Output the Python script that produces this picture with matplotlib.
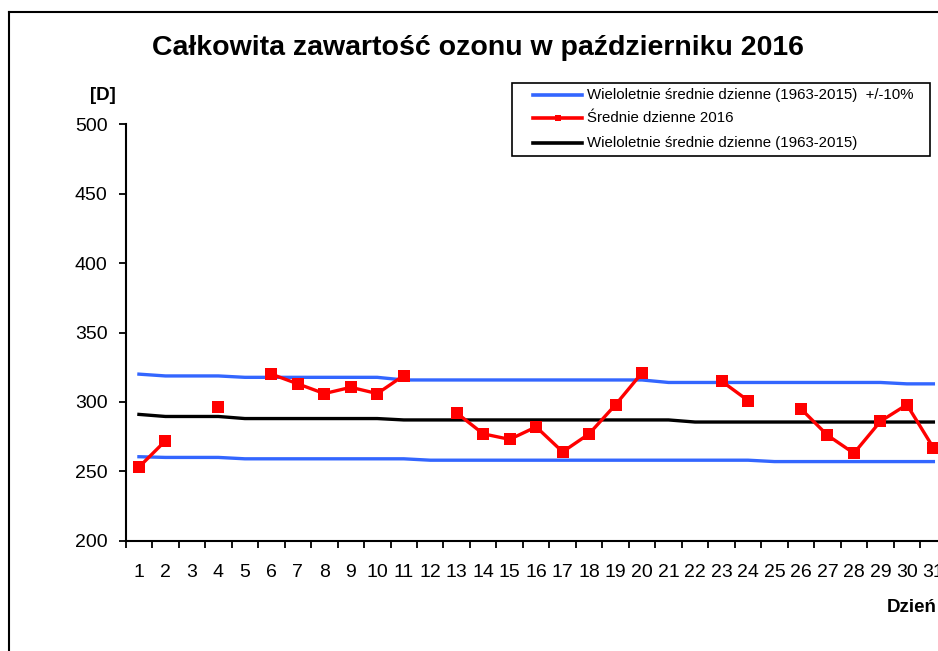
import numpy as np
import matplotlib
matplotlib.use("Agg")
import matplotlib.pyplot as plt
from matplotlib.lines import Line2D
from matplotlib.patches import Rectangle

plt.rcParams['font.family'] = ['Liberation Sans', 'DejaVu Sans']

days = list(range(1, 32))
day_labels = [str(d) for d in days]

nan = np.nan
srednie_2016 = [253, 272, nan, 296, nan, 320, 313, 306, 310.5, 306,
                319, nan, 292, 277, 273, 282, 264, 277, 298, 321,
                nan, nan, 315, 301, nan, 295, 276, 263, 286, 298, 267]

wieloletnie = ([291] + [289.5] * 3 + [288] * 6 + [287] * 11 + [285.5] * 10)
gorna = ([320] + [318.7] * 3 + [317.7] * 6 + [315.8] * 10 + [314] * 9 + [313] * 2)
dolna = ([260.5] + [260] * 3 + [259] * 7 + [258] * 13 + [257] * 7)

title = "Całkowita zawartość ozonu w październiku 2016"
lab_band = "Wieloletnie średnie dzienne (1963-2015)  +/-10%"
lab_2016 = "Średnie dzienne 2016"
lab_mean = "Wieloletnie średnie dzienne (1963-2015)"

W, H = 938, 651
fig = plt.figure(figsize=(W / 100, H / 100), dpi=100)

def fx(px):
    return px / W

def fy(py):
    return 1 - py / H

left, right = 125.7, 946.6
bottom, top = 540.7, 124.3
ax = fig.add_axes([fx(left), fy(bottom), (right - left) / W, (bottom - top) / H])

blue = '#3366FF'
red = '#FF0000'
ax.plot(days, gorna, color=blue, lw=2.4, zorder=2)
ax.plot(days, dolna, color=blue, lw=2.4, zorder=2)
ax.plot(days, wieloletnie, color='black', lw=2.4, zorder=3)
ax.plot(days, srednie_2016, color=red, lw=2.4, marker='s', ms=8.3,
        markeredgewidth=0, zorder=4)

ax.set_xlim(0.5, 31.5)
ax.set_ylim(200, 500)
ax.set_yticks([200, 250, 300, 350, 400, 450, 500])
ax.set_xticks(days)
ax.set_xticklabels(day_labels)
ax.set_xticks(np.arange(0.5, 32, 1), minor=True)
ax.tick_params(axis='x', which='major', length=0, pad=17, labelsize=14)
ax.tick_params(axis='x', which='minor', length=5, width=1.3, direction='out')
ax.tick_params(axis='y', which='major', length=5, width=1.3, pad=8, labelsize=14)

for s in ['top', 'right']:
    ax.spines[s].set_visible(False)
for s in ['left', 'bottom']:
    ax.spines[s].set_linewidth(1.5)

fig.text(fx(478), fy(48), title, ha='center', va='center',
         fontsize=20.5, fontweight='bold')
fig.text(fx(103), fy(95), "[D]", ha='center', va='center',
         fontsize=13.5, fontweight='bold')
fig.text(fx(887), fy(608), "Dzień", ha='left', va='center',
         fontsize=13.5, fontweight='bold')

# legend drawn by hand in figure pixels
fig.add_artist(Rectangle((fx(511.7), fy(156)), fx(930) - fx(511.7), fy(83.3) - fy(156),
                         transform=fig.transFigure, facecolor='white',
                         edgecolor='black', lw=1.2, zorder=5))
rows = [(95, blue, False, lab_band), (118.3, red, True, lab_2016),
        (142.7, 'black', False, lab_mean)]
for yy, col, mk, lab in rows:
    fig.add_artist(Line2D([fx(533), fx(582)], [fy(yy), fy(yy)], color=col, lw=2.6,
                          transform=fig.transFigure, zorder=6))
    if mk:
        fig.add_artist(Line2D([fx(557.5)], [fy(yy)], color=col, marker='s', ms=5,
                              markeredgewidth=0, transform=fig.transFigure, zorder=7))
    fig.text(fx(587), fy(yy), lab, ha='left', va='center', fontsize=10.8, zorder=7)

# outer frame (figure border)
fig.add_artist(Line2D([fx(9), fx(9)], [0, fy(12)], color='black', lw=1.5,
                      transform=fig.transFigure))
fig.add_artist(Line2D([fx(9), 1.0], [fy(12), fy(12)], color='black', lw=1.5,
                      transform=fig.transFigure))

fig.savefig('out.png', dpi=100)
